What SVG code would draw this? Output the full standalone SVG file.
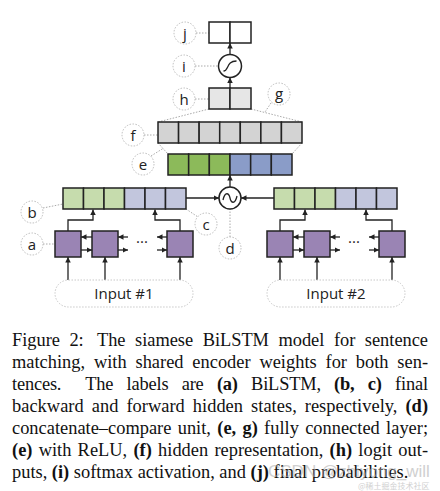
<svg xmlns="http://www.w3.org/2000/svg" width="440" height="491" viewBox="0 0 440 491">
<defs>
<style>
.cell{stroke:#222;stroke-width:1.5}
.g1{fill:#8cba5a}.b1{fill:#8a9cc8}.g2{fill:#c6dcad}.b2{fill:#c2c6dd}.gr{fill:#d3d3d3}.lg{fill:#e6e6e6}.wh{fill:#fff}
.lstm{fill:#9a84b4;stroke:#222;stroke-width:1.5}
.ln{stroke:#222;stroke-width:1.3;fill:none}
.arr{stroke:#222;stroke-width:1.3;fill:none;marker-end:url(#ah)}
.dot{stroke:#aaa;stroke-width:1;stroke-dasharray:1.5 1.5;fill:none}
.lab circle{fill:#fff;stroke:#bbb;stroke-width:1;stroke-dasharray:1.5 1.5}
.lab text{font-family:"Open Sans","DejaVu Sans",sans-serif;font-size:15px;fill:#222;text-anchor:middle}
.op{fill:#fff;stroke:#222;stroke-width:1.5}
.pill{fill:#fff;stroke:#c8c8c8;stroke-width:1;stroke-dasharray:1.5 1.5}
.in{font-family:"Open Sans","DejaVu Sans",sans-serif;font-size:15px;fill:#222;text-anchor:middle}
.cap{font-family:"Liberation Serif","Times New Roman",serif;font-size:18.4px;fill:#111}
.b{font-weight:bold}
</style>
<marker id="ah" viewBox="0 0 8 8" refX="8" refY="4" markerWidth="5.5" markerHeight="5.5" orient="auto" markerUnits="userSpaceOnUse"><path d="M0,0 L8,4 L0,8 z" fill="#222"/></marker>
</defs>

<g id="connectors">
<path class="dot" d="M209,109 L158,122 M251,109 L302,122 M158,143 L168,154 M302,143 L292,154"/>
<path class="dot" d="M196,33 H209 M195,66 H218.5 M195,99 H209 M271,103 L265,112 M144,135 H158 M151,156 L163,148.5 M43,208 L63,204 M43,244 H55 M186,209 L198,217 M230,237 V209"/>
<path class="arr" d="M230,88 V77.5"/>
<path class="arr" d="M230,54.5 V43"/>
<path class="arr" d="M230,187 V175"/>
<path class="arr" d="M186,198 H219"/>
<path class="arr" d="M274,198 H241"/>
<path class="arr" d="M68,231 V220 H93 V209.5"/>
<path class="arr" d="M180,231 V220 H155 V209.5"/>
<path class="arr" d="M92,237 H81"/>
<path class="arr" d="M81,250 H92"/>
<path class="arr" d="M128,237 H118"/>
<path class="arr" d="M118,250 H128"/>
<path class="arr" d="M167,237 H157"/>
<path class="arr" d="M157,250 H167"/>
<path class="arr" d="M68,280 V257"/>
<path class="arr" d="M105,280 V257"/>
<path class="arr" d="M180,280 V257"/>
<path class="arr" d="M280,231 V220 H305 V209.5"/>
<path class="arr" d="M392,231 V220 H366 V209.5"/>
<path class="arr" d="M304,237 H293"/>
<path class="arr" d="M293,250 H304"/>
<path class="arr" d="M340,237 H330"/>
<path class="arr" d="M330,250 H340"/>
<path class="arr" d="M379,237 H369"/>
<path class="arr" d="M369,250 H379"/>
<path class="arr" d="M280,280 V257"/>
<path class="arr" d="M317,280 V257"/>
<path class="arr" d="M392,280 V257"/>
</g>

<g id="node-j">
<rect class="cell wh" x="209" y="22" width="21" height="21"/>
<rect class="cell wh" x="230" y="22" width="21" height="21"/>
</g>
<g id="node-i-op">
<circle class="op" cx="230" cy="66" r="11.5"/>
<path class="ln" d="M223.5,71 C229,71 226,61 236.5,61"/>
</g>
<g id="node-h">
<rect class="cell lg" x="209" y="88" width="21" height="21"/>
<rect class="cell lg" x="230" y="88" width="21" height="21"/>
</g>
<g id="node-f">
<rect class="cell gr" x="158" y="122" width="20.57" height="21"/>
<rect class="cell gr" x="178.57" y="122" width="20.57" height="21"/>
<rect class="cell gr" x="199.14" y="122" width="20.57" height="21"/>
<rect class="cell gr" x="219.71" y="122" width="20.57" height="21"/>
<rect class="cell gr" x="240.29" y="122" width="20.57" height="21"/>
<rect class="cell gr" x="260.86" y="122" width="20.57" height="21"/>
<rect class="cell gr" x="281.43" y="122" width="20.57" height="21"/>
</g>
<g id="node-e">
<rect class="cell g1" x="168" y="154" width="20.67" height="21"/>
<rect class="cell g1" x="188.67" y="154" width="20.67" height="21"/>
<rect class="cell g1" x="209.33" y="154" width="20.67" height="21"/>
<rect class="cell b1" x="230" y="154" width="20.67" height="21"/>
<rect class="cell b1" x="250.67" y="154" width="20.67" height="21"/>
<rect class="cell b1" x="271.33" y="154" width="20.67" height="21"/>
</g>
<g id="node-d-op">
<circle class="op" cx="230" cy="198" r="11"/>
<path class="ln" d="M223,200 C225,191 229,193 230,198 C231,203 235,205 237,196"/>
</g>
<g id="node-b-left">
<rect class="cell g2" x="63" y="188" width="20.5" height="21"/>
<rect class="cell g2" x="83.5" y="188" width="20.5" height="21"/>
<rect class="cell g2" x="104" y="188" width="20.5" height="21"/>
<rect class="cell b2" x="124.5" y="188" width="20.5" height="21"/>
<rect class="cell b2" x="145" y="188" width="20.5" height="21"/>
<rect class="cell b2" x="165.5" y="188" width="20.5" height="21"/>
</g>
<g id="node-b-right">
<rect class="cell g2" x="274" y="188" width="20.5" height="21"/>
<rect class="cell g2" x="294.5" y="188" width="20.5" height="21"/>
<rect class="cell g2" x="315" y="188" width="20.5" height="21"/>
<rect class="cell b2" x="335.5" y="188" width="20.5" height="21"/>
<rect class="cell b2" x="356" y="188" width="20.5" height="21"/>
<rect class="cell b2" x="376.5" y="188" width="20.5" height="21"/>
</g>
<g id="node-lstm-left">
<rect class="lstm" x="55" y="231" width="26" height="26"/>
<rect class="lstm" x="92" y="231" width="26" height="26"/>
<rect class="lstm" x="167" y="231" width="26" height="26"/>
<text x="142" y="247" class="in">···</text>
</g>
<g id="node-lstm-right">
<rect class="lstm" x="267" y="231" width="26" height="26"/>
<rect class="lstm" x="304" y="231" width="26" height="26"/>
<rect class="lstm" x="379" y="231" width="26" height="26"/>
<text x="354" y="247" class="in">···</text>
</g>
<g id="node-input1">
<rect class="pill" x="55" y="280" width="138" height="27" rx="13.5"/>
<text x="124" y="299" class="in">Input #1</text>
</g>
<g id="node-input2">
<rect class="pill" x="267" y="280" width="138" height="27" rx="13.5"/>
<text x="336" y="299" class="in">Input #2</text>
</g>

<g id="labels" class="lab">
<g id="label-j"><circle cx="185" cy="33" r="11"/><text x="185" y="38.5">j</text></g>
<g id="label-i"><circle cx="184" cy="66" r="11"/><text x="184" y="71.5">i</text></g>
<g id="label-h"><circle cx="184" cy="99" r="11"/><text x="184" y="104.5">h</text></g>
<g id="label-g"><circle cx="279" cy="94" r="11"/><text x="279" y="99">g</text></g>
<g id="label-f"><circle cx="133" cy="135" r="11"/><text x="133" y="140.5">f</text></g>
<g id="label-e"><circle cx="143" cy="164" r="11"/><text x="143" y="169.5">e</text></g>
<g id="label-b"><circle cx="32" cy="212" r="11"/><text x="32" y="217.5">b</text></g>
<g id="label-a"><circle cx="32" cy="244" r="11"/><text x="32" y="249.5">a</text></g>
<g id="label-c"><circle cx="206" cy="224" r="11"/><text x="206" y="229.5">c</text></g>
<g id="label-d"><circle cx="230" cy="248" r="11"/><text x="230" y="253.5">d</text></g>
</g>

<g id="caption" class="cap">
<text x="12" y="346" word-spacing="5" textLength="416" lengthAdjust="spacing">Figure 2: <tspan dx="4">The</tspan> siamese BiLSTM model for sentence</text>
<text x="12" y="368" word-spacing="4.2" textLength="416" lengthAdjust="spacing">matching, with shared encoder weights for both sen-</text>
<text x="12" y="390" word-spacing="8.9" textLength="416" lengthAdjust="spacing">tences. <tspan dx="11">The</tspan> labels are <tspan class="b">(a)</tspan> BiLSTM, <tspan class="b">(b,</tspan> <tspan class="b">c)</tspan> final</text>
<text x="12" y="412" word-spacing="3.4" textLength="416" lengthAdjust="spacing">backward and forward hidden states, respectively, <tspan class="b">(d)</tspan></text>
<text x="12" y="434" word-spacing="1.7" textLength="416" lengthAdjust="spacing">concatenate–compare unit, <tspan class="b">(e,</tspan> <tspan class="b">g)</tspan> fully connected layer;</text>
<text x="12" y="456" word-spacing="1.6" textLength="416" lengthAdjust="spacing"><tspan class="b">(e)</tspan> with ReLU, <tspan class="b">(f)</tspan> hidden representation, <tspan class="b">(h)</tspan> logit out-</text>
<text x="12" y="478">puts, <tspan class="b">(i)</tspan> softmax activation, and <tspan class="b">(j)</tspan> final probabilities.</text>
</g>
<g id="watermark" fill="#aaa" opacity="0.55" font-family="'Liberation Sans','Noto Sans CJK SC',sans-serif">
<text x="268" y="477" font-size="17">CSDN @zhiyong_will</text>
<text x="358" y="489" font-size="8" font-family="'Noto Sans CJK SC',sans-serif">@稀土掘金技术社区</text>
</g>
</svg>
